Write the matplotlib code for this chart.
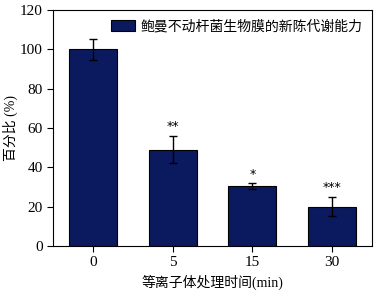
import matplotlib
matplotlib.use("Agg")
import matplotlib.pyplot as plt
import numpy as np

plt.rcParams['font.family'] = ['Liberation Serif', 'Noto Sans CJK SC']

### Data. ###
categories = ['0', '5', '15', '30']
values = [100, 49, 30.5, 20]
errors = [5.5, 7, 1.3, 4.7]
marks = ['', '**', '*', '***']
legend_label = '鲍曼不动杆菌生物膜的新陈代谢能力'

fig = plt.figure(figsize=(3.76, 2.91), dpi=100)
ax = fig.add_axes([53/376, 1-246/291, 319/376, 236/291])

x = np.arange(len(categories))
ax.bar(x, values, width=0.6, color='#0b1a5e', edgecolor='black', linewidth=0.8,
       yerr=errors, error_kw=dict(ecolor='black', elinewidth=1, capsize=3, capthick=1),
       label=legend_label)

for xi, v, e, m in zip(x, values, errors, marks):
    if m:
        ax.text(xi, v + e + 1.5, m, ha='center', va='bottom', fontsize=9, family='DejaVu Sans')

ax.set_xlim(-0.5, 3.5)
ax.set_ylim(0, 120)
ax.set_yticks(range(0, 121, 20))
ax.set_xticks(x)
ax.set_xticklabels(categories)
ax.tick_params(direction='out', length=4, width=0.8, labelsize=11)
ax.tick_params(axis='x', pad=3)
for s in ax.spines.values():
    s.set_linewidth(0.8)

ax.set_ylabel('百分比 (%)', fontsize=10, labelpad=1)
ax.set_xlabel('等离子体处理时间(min)', fontsize=10, labelpad=4)
ax.legend(loc='upper right', frameon=False, fontsize=10, handlelength=1.7,
          handleheight=0.9, borderaxespad=0.3, handletextpad=0.4)

fig.savefig('out.png', dpi=100)
